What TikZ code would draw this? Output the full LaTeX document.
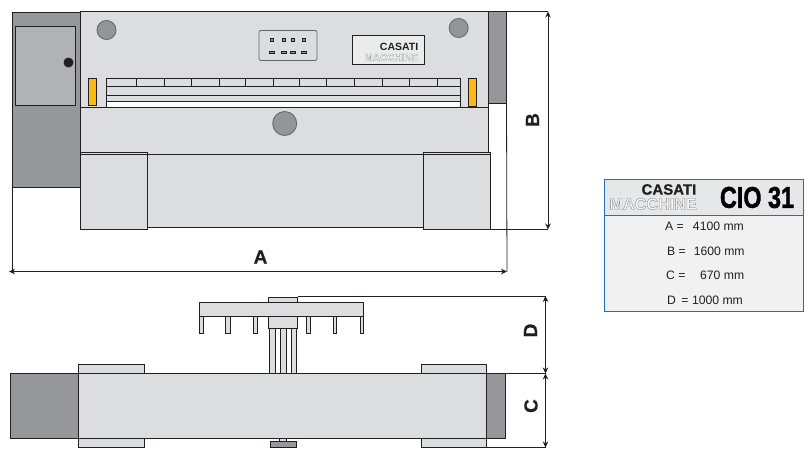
\documentclass[tikz,border=0pt]{standalone}
\usepackage{fontspec}
\setmainfont{Liberation Sans}
\usetikzlibrary{positioning,calc,arrows.meta}
\definecolor{panel}{HTML}{DCDDDE}
\definecolor{darkpanel}{HTML}{96979A}
\definecolor{doorgray}{HTML}{B1B2B4}
\definecolor{dial}{HTML}{939598}
\definecolor{lamp}{HTML}{FDB913}
\definecolor{ink}{HTML}{231F20}
\definecolor{tableblue}{HTML}{1F70B8}
\definecolor{tablehead}{HTML}{E6E7E8}
\definecolor{tablebody}{HTML}{F1F1F2}
\newcommand*{\outl}[2]{{\addfontfeature{FakeBold=#1}\special{pdf:bcolor [0.97] [0.5]}#2\special{pdf:ecolor}}}
\tikzset{
  part/.style={draw=ink,line width=0.9pt,fill=panel},
  dark/.style={draw=ink,line width=0.9pt,fill=darkpanel},
  dim/.style={draw=ink,line width=0.8pt,{Stealth[length=6pt,width=5.5pt]}-{Stealth[length=6pt,width=5.5pt]}},
  ext/.style={draw=ink,line width=0.8pt},
  dimlabel/.style={font=\bfseries\fontsize{19}{19}\selectfont\addfontfeature{FakeBold=0.6},text=ink,inner sep=0pt},
  row/.style={font=\fontsize{12.2}{13}\selectfont,text=ink,inner sep=0pt}
}
\begin{document}
\begin{tikzpicture}[x=1pt,y=-1pt]
\useasboundingbox (0,0) rectangle (812,455);
% Front view: grey side boxes
\draw[dark] (12.5,12.5) rectangle (80.5,187);
\draw[dark] (488,11.5) rectangle (506.5,103.5);
% Door with knob
\draw[draw=ink,line width=0.9pt,fill=doorgray] (15.5,26.5) rectangle (75.5,105.5);
\fill[ink] (68.5,62.5) circle (5);
% Upper and lower panels
\draw[part] (80.5,11.5) rectangle (488,107);
\draw[part] (80.5,107) rectangle (488,154);
% Table and the two feet
\draw[part] (147.5,154) rectangle (423.3,227.5);
\draw[part] (80.5,152.5) rectangle (147.5,229.5);
\draw[part] (423.3,152.5) rectangle (490.7,229.5);
\draw[ink,line width=0.9pt] (80.5,154) -- (147.5,154) (423.3,154) -- (490.7,154);
% Dials
\foreach \px/\py/\rad in {106.5/30/9.5,458.7/28/9.5,284.7/123.5/12}
  \draw[draw=ink!70,line width=0.8pt,fill=dial] (\px,\py) circle (\rad);
% Lamps
\draw[draw=ink,line width=0.9pt,fill=lamp] (88.5,78.5) rectangle (96.5,105.5);
\draw[draw=ink,line width=0.9pt,fill=lamp] (468.3,78.5) rectangle (476.7,106);
% Blade strip
\fill[white] (106.5,101.5) rectangle (460.7,106.5);
\draw[ink,line width=0.9pt] (106.5,107) -- (106.5,78.5) -- (460.7,78.5) -- (460.7,107);
\foreach \ly in {86.5,95.5,101.5}
  \draw[ink,line width=0.9pt] (106.5,\ly) -- (460.7,\ly);
\foreach \tx in {136.5,164,191,219,245.5,273.4,299.7,326.7,354.7,382.7,409.7,437.3}
  \draw[ink,line width=0.8pt] (\tx,78.5) -- (\tx,86.5);
% Keypad
\draw[draw=ink!70,line width=0.8pt,fill=panel,rounded corners=2pt] (259,30.5) rectangle (317,60.5);
\foreach \kx in {271.7,284,293,304} {
  \draw[ink,line width=0.8pt,fill=dial] (\kx-1.5,38.5) rectangle (\kx+1.5,41.5);
  \draw[ink,line width=0.8pt,fill=dial] (\kx-2.5,51.5) rectangle (\kx+2.5,53);
}
% Logo plate
\draw[draw=ink,line width=0.9pt,fill=white!40!panel] (352.3,35.3) rectangle (424.7,64.5);
\node[anchor=east,inner sep=0pt,text=ink,font=\bfseries\fontsize{10.5}{11}\selectfont] (plate1) at (418.5,47) {CASATI};
\node[anchor=east,inner sep=0pt,font=\bfseries\fontsize{10}{11}\selectfont] (plate2) at (418.5,57.5) {\outl{1.5}{MACCHINE}};
% Dimensions of the front view
\coordinate (a1) at (9,271.5);
\coordinate (a2) at (507,271.5);
\coordinate (b1) at (548,11.5);
\coordinate (b2) at (548,229.5);
\draw[ext] (12.5,187) -- (12.5,271.5);
\draw[ext] (506.5,103.5) -- (a2);
\draw[ext] (488,11.5) -- (b1);
\draw[ext] (490.7,229.5) -- (b2);
\draw[dim] (a1) -- (a2);
\draw[dim] (b1) -- (b2);
\node[dimlabel] (la) at (260.5,257) {A};
\node[dimlabel,rotate=90] (lb) at (532.5,120) {B};
% Side view: pressure bar and rods
\foreach \rx/\ry in {269.7/275,280.7/286,291.7/296.7}
  \draw[ink,line width=0.8pt,fill=panel] (\rx,328.5) rectangle (\ry,373.5);
\foreach \qx/\qy in {199.8/203.5,225.3/230.3,253/257.5,306/310,333.3/336.7,360/363.5}
  \draw[ink,line width=0.8pt,fill=panel] (\qx,316.5) rectangle (\qy,333.5);
\draw[part] (268,297) rectangle (297.5,328.5);
\draw[part] (199.5,302) rectangle (363.5,316.5);
% Side view: body
\draw[part] (78.5,364.5) rectangle (144,447.5);
\draw[part] (421.7,364.5) rectangle (486.7,447.5);
\draw[dark] (10.5,373.5) rectangle (78.5,438.5);
\draw[dark] (486.7,373.5) rectangle (505.5,438.5);
\draw[part] (78.5,373.5) rectangle (486.7,438.5);
% Handle
\draw[ink,line width=0.7pt,fill=panel] (279.5,438.5) rectangle (286,441);
\draw[draw=ink,line width=0.8pt,fill=darkpanel] (270,441) rectangle (296.7,447.5);
% Dimensions of the side view
\coordinate (d1) at (545.5,296);
\coordinate (d2) at (545.5,373.5);
\coordinate (c2) at (545.5,447.5);
\draw[ext] (297.5,296) -- (d1);
\draw[ext] (505.5,373.5) -- (d2);
\draw[ext] (486.7,447.5) -- (c2);
\draw[dim] (d1) -- (d2);
\draw[dim] (d2) -- (c2);
\node[dimlabel,rotate=90] (ld) at (530.5,330.5) {D};
\node[dimlabel,rotate=90] (lc) at (531,406) {C};
% Data table
\draw[draw=tableblue,line width=0.8pt,fill=tablebody] (604,179.3) rectangle (803.5,311.3);
\draw[draw=tableblue,line width=0.8pt,fill=tablehead] (604,179.3) rectangle (803.5,215.3);
\node[anchor=east,inner sep=0pt,text=ink,font=\bfseries\fontsize{15}{15}\selectfont\addfontfeature{FakeBold=0.5}] (casati) at (696.5,189.5) {CASATI};
\node[anchor=east,inner sep=0pt,font=\bfseries\fontsize{16.2}{17}\selectfont] (macchine) at (697,204) {\outl{2}{MACCHINE}};
\node[inner sep=0pt,text=black,xscale=0.78,font=\bfseries\fontsize{30}{30}\selectfont\addfontfeature{FakeBold=1.5}] (model) at (757,197.5) {CIO 31};
\node[row,anchor=west] (rowa) at (665,226) {A =\hspace{0.75em}4100 mm};
\node[row,anchor=west] (rowb) at (667,251) {B =\hspace{0.65em}1600 mm};
\node[row,anchor=west] (rowc) at (666,275) {C =\hspace{1.2em}670 mm};
\node[row,anchor=west] (rowd) at (667,300) {D\hspace{0.45em}= 1000 mm};
\end{tikzpicture}
\end{document}
